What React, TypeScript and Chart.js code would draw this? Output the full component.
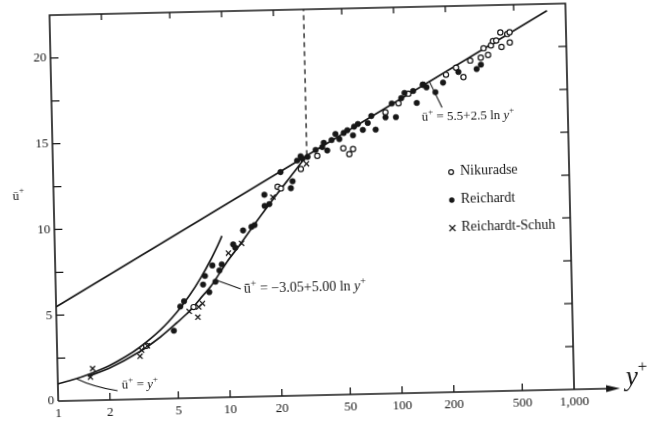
import React, { useEffect, useRef } from "react";
import { Chart, registerables } from "chart.js";

Chart.register(...registerables);

// ---------- data (y+ on log axis, u+ on linear axis) ----------
const xTickValues = [1, 2, 5, 10, 20, 50, 100, 200, 500, 1000];
const xTickLabels = ["1", "2", "5", "10", "20", "50", "100", "200", "500", "1,000"];
const yTickValues = [0, 2.5, 5, 7.5, 10, 12.5, 15, 17.5, 20, 22.5];
const yLabelValues = [0, 5, 10, 15, 20];
const yLabelTexts = ["0", "5", "10", "15", "20"];

// u+ = 5.5 + 2.5 ln y+  (straight in log-x: end points)
const logLawYPlus = [1, 780];
const logLawU = [5.5, 22.1];

// u+ = y+  (laminar sublayer curve)
const laminarYPlus = [1, 1.25, 1.5, 2, 2.5, 3, 4, 5, 6, 7, 8, 9, 9.4];
const laminarU = [1, 1.25, 1.5, 2, 2.5, 3, 4, 5, 6, 7, 8, 9, 9.4];

// buffer curve ending on u+ = -3.05 + 5.00 ln y+
const bufferYPlus = [1.5, 2, 3, 4, 5, 6, 7, 8, 10, 12, 15, 20, 25, 30];
const bufferU = [1.4, 1.85, 2.75, 3.6, 4.4, 5.1, 5.85, 6.5, 7.9, 8.9, 10.2, 11.8, 13.0, 14.0];

// dashed vertical limit
const dashYPlus = [30, 30];
const dashU = [14.0, 22.5];

const nikuradseYPlus = [3.3, 6.3, 20.1, 21, 27.6, 34.5, 49, 53, 55.8, 87, 104, 119, 145, 198, 227, 250, 275, 317, 330, 350, 365, 375, 392, 415, 420, 455, 470, 470];
const nikuradseU = [3.1, 5.3, 12.2, 12.1, 13.2, 13.95, 14.35, 14.0, 14.3, 16.4, 16.9, 17.45, 17.95, 18.5, 18.9, 18.35, 19.3, 19.45, 20.0, 19.6, 20.15, 20.4, 20.43, 20.9, 20.05, 20.8, 20.9, 20.3];

const reichardtYPlus = [4.8, 5.27, 5.55, 7.2, 7.4, 8.2, 9.3, 8.5, 7.8, 9.0, 10.9, 11.2, 12.5, 14, 14.6, 16.8, 17.9, 16.8, 21, 24.6, 24, 26.3, 27.6, 28.3, 30.3, 33.8, 37, 37.8, 39.5, 42, 44.3, 46.6, 49.5, 52, 56, 57, 60, 64, 68.5, 72, 76, 87, 95, 100, 108, 113, 127, 132.8, 145, 152, 171, 190, 234, 299, 317];
const reichardtU = [3.95, 5.35, 5.65, 6.6, 7.1, 7.7, 7.75, 6.75, 6.15, 7.4, 8.9, 8.7, 9.7, 9.9, 10.0, 11.1, 11.2, 11.75, 13.05, 12.5, 12.1, 13.7, 13.95, 13.8, 13.9, 14.3, 14.45, 14.7, 14.25, 14.85, 15.2, 14.9, 15.25, 15.4, 15.1, 15.6, 15.75, 15.4, 15.8, 16.2, 15.4, 16.1, 16.9, 16.1, 17.2, 17.5, 17.6, 16.9, 17.95, 17.8, 17.5, 18.05, 18.65, 18.8, 19.05];

const schuhYPlus = [1.55, 1.6, 3.03, 3.1, 3.35, 5.93, 6.65, 7.1, 6.75, 10.2, 12.2, 18.8, 29.8];
const schuhU = [1.35, 1.85, 2.5, 2.85, 3.1, 5.05, 4.7, 5.5, 5.3, 8.4, 8.95, 11.6, 13.5];

// ---------- annotations (in data units) ----------
const eqLogLawAt = [141, 16.05];
const eqLogLawPointer = [[158, 18.15], [186, 16.6]];
const eqBufferAt = [12.4, 6.25];
const eqBufferPointer = [[8.55, 6.85], [11.9, 6.3]];
const eqLaminarAt = [2.35, 0.85];
const eqLaminarPointer = [[1.29, 1.27], [1.6, 0.79], [2.22, 0.52]];

const FONT = "'Liberation Serif', 'Times New Roman', 'DejaVu Serif', serif";
const INK = "#171717";

function toPts(xs: number[], ys: number[]) {
  return xs.map((x, i) => ({ x, y: ys[i] }));
}

type Part = { t: string; it?: boolean; sup?: boolean };

function drawRich(ctx: CanvasRenderingContext2D, x: number, y: number, parts: Part[], size: number) {
  let cx = x;
  ctx.textBaseline = "middle";
  ctx.textAlign = "left";
  for (const p of parts) {
    const fs = p.sup ? Math.round(size * 0.72) : size;
    ctx.font = `${p.it ? "italic " : ""}${fs}px ${FONT}`;
    ctx.fillText(p.t, cx, p.sup ? y - size * 0.4 : y);
    cx += ctx.measureText(p.t).width;
  }
}

const paperPlugin = {
  id: "paper",
  afterDraw(chart: any) {
    const { ctx, chartArea: a, scales } = chart;
    const sx = scales.x;
    const sy = scales.y;
    const X = (v: number) => sx.getPixelForValue(v);
    const Y = (v: number) => sy.getPixelForValue(v);
    ctx.save();
    ctx.strokeStyle = INK;
    ctx.fillStyle = INK;
    ctx.lineCap = "butt";

    // frame
    ctx.lineWidth = 1.6;
    ctx.beginPath();
    ctx.moveTo(a.left, a.bottom);
    ctx.lineTo(a.left, a.top);
    ctx.lineTo(a.right, a.top);
    ctx.lineTo(a.right, a.bottom);
    ctx.stroke();

    // x axis with arrow
    const arrowEnd = a.right + 46;
    ctx.beginPath();
    ctx.moveTo(a.left, a.bottom);
    ctx.lineTo(arrowEnd - 6, a.bottom);
    ctx.stroke();
    ctx.beginPath();
    ctx.moveTo(arrowEnd, a.bottom);
    ctx.lineTo(arrowEnd - 14, a.bottom - 3.5);
    ctx.lineTo(arrowEnd - 14, a.bottom + 3.5);
    ctx.closePath();
    ctx.fill();

    // ticks
    ctx.lineWidth = 1.3;
    xTickValues.forEach((v) => {
      if (v === 1 || v === 1000) return;
      const px = X(v);
      ctx.beginPath();
      ctx.moveTo(px, a.bottom);
      ctx.lineTo(px, a.bottom - 7);
      ctx.moveTo(px, a.top);
      ctx.lineTo(px, a.top + 6);
      ctx.stroke();
    });
    yTickValues.forEach((v) => {
      if (v === 0 || v === 22.5) return;
      const py = Y(v);
      ctx.beginPath();
      ctx.moveTo(a.left, py);
      ctx.lineTo(a.left + 8, py);
      ctx.moveTo(a.right, py);
      ctx.lineTo(a.right - 8, py);
      ctx.stroke();
    });

    // tick labels
    ctx.font = `13px ${FONT}`;
    ctx.textBaseline = "middle";
    ctx.textAlign = "center";
    xTickValues.forEach((v, i) => {
      ctx.fillText(xTickLabels[i], X(v), a.bottom + 13);
    });
    ctx.textAlign = "right";
    yLabelValues.forEach((v, i) => {
      ctx.fillText(yLabelTexts[i], a.left - 4, Y(v));
    });

    // axis titles
    drawRich(ctx, 13, Y(12), [{ t: "\u016B" }, { t: "+", sup: true }], 13);
    ctx.font = `italic 27px ${FONT}`;
    ctx.textAlign = "left";
    ctx.textBaseline = "alphabetic";
    ctx.fillText("y", arrowEnd + 6, a.bottom - 3);
    ctx.font = `17px ${FONT}`;
    ctx.fillText("+", arrowEnd + 18, a.bottom - 16);

    // equation labels & pointers
    ctx.lineWidth = 1.1;
    const line = (pts: number[][]) => {
      ctx.beginPath();
      ctx.moveTo(X(pts[0][0]), Y(pts[0][1]));
      if (pts.length === 3) {
        ctx.quadraticCurveTo(X(pts[1][0]), Y(pts[1][1]), X(pts[2][0]), Y(pts[2][1]));
      } else {
        for (let i = 1; i < pts.length; i++) ctx.lineTo(X(pts[i][0]), Y(pts[i][1]));
      }
      ctx.stroke();
    };
    line(eqLogLawPointer);
    line(eqBufferPointer);
    line(eqLaminarPointer);

    drawRich(ctx, X(eqLogLawAt[0]), Y(eqLogLawAt[1]), [
      { t: "\u016B" }, { t: "+", sup: true }, { t: " = 5.5+2.5 ln " }, { t: "y", it: true }, { t: "+", sup: true },
    ], 13);
    drawRich(ctx, X(eqBufferAt[0]), Y(eqBufferAt[1]), [
      { t: "\u016B" }, { t: "+", sup: true }, { t: " = \u22123.05+5.00 ln " }, { t: "y", it: true }, { t: "+", sup: true },
    ], 14);
    drawRich(ctx, X(eqLaminarAt[0]), Y(eqLaminarAt[1]), [
      { t: "\u016B" }, { t: "+", sup: true }, { t: " = " }, { t: "y", it: true }, { t: "+", sup: true },
    ], 13);

    // legend
    const legX = 452;
    const legY = [174, 202, 230];
    const legTexts = chart.data.datasets.filter((d: any) => d.inLegend).map((d: any) => d.label);
    legTexts.forEach((txt: string, i: number) => {
      const cy = legY[i];
      ctx.lineWidth = 1.2;
      if (i === 0) {
        ctx.beginPath();
        ctx.arc(legX, cy + 1, 2.4, 0, Math.PI * 2);
        ctx.stroke();
      } else if (i === 1) {
        ctx.beginPath();
        ctx.arc(legX, cy + 1, 2.7, 0, Math.PI * 2);
        ctx.fill();
      } else {
        ctx.beginPath();
        ctx.moveTo(legX - 3, cy - 2);
        ctx.lineTo(legX + 3, cy + 4);
        ctx.moveTo(legX + 3, cy - 2);
        ctx.lineTo(legX - 3, cy + 4);
        ctx.stroke();
      }
      ctx.font = `14px ${FONT}`;
      ctx.textAlign = "left";
      ctx.textBaseline = "middle";
      ctx.fillText(txt, legX + 9, cy);
    });

    ctx.restore();
  },
};

export default function App() {
  const ref = useRef<HTMLCanvasElement | null>(null);

  useEffect(() => {
    if (!ref.current) return;
    const lineDs = (label: string, xs: number[], ys: number[], extra: any = {}) => ({
      label,
      data: toPts(xs, ys),
      showLine: true,
      pointRadius: 0,
      borderColor: INK,
      borderWidth: 1.7,
      fill: false,
      tension: 0.3,
      order: 2,
      ...extra,
    });
    const chart = new Chart(ref.current, {
      type: "scatter",
      data: {
        datasets: [
          lineDs("u+ = 5.5 + 2.5 ln y+", logLawYPlus, logLawU, { tension: 0 }),
          lineDs("u+ = y+", laminarYPlus, laminarU),
          lineDs("u+ = -3.05 + 5.00 ln y+", bufferYPlus, bufferU),
          lineDs("limit", dashYPlus, dashU, { tension: 0, borderDash: [5, 4], borderWidth: 1.3 }),
          {
            label: "Nikuradse",
            inLegend: true,
            data: toPts(nikuradseYPlus, nikuradseU),
            pointStyle: "circle",
            pointRadius: 2.6,
            pointBackgroundColor: "#ffffff",
            pointBorderColor: INK,
            pointBorderWidth: 1.2,
            order: 1,
          },
          {
            label: "Reichardt",
            inLegend: true,
            data: toPts(reichardtYPlus, reichardtU),
            pointStyle: "circle",
            pointRadius: 2.8,
            pointBackgroundColor: INK,
            pointBorderColor: INK,
            pointBorderWidth: 0.5,
            order: 0,
          },
          {
            label: "Reichardt-Schuh",
            inLegend: true,
            data: toPts(schuhYPlus, schuhU),
            pointStyle: "crossRot",
            pointRadius: 3.6,
            pointBorderColor: INK,
            pointBorderWidth: 1.3,
            order: 0,
          },
        ] as any,
      },
      options: {
        animation: false,
        responsive: false,
        devicePixelRatio: 1,
        layout: { padding: { left: 54, right: 79, top: 9, bottom: 26 } },
        plugins: { legend: { display: false }, tooltip: { enabled: false } },
        scales: {
          x: { type: "logarithmic", min: 1, max: 1000, display: false },
          y: { type: "linear", min: 0, max: 22.5, display: false },
        },
      } as any,
      plugins: [paperPlugin],
    });
    return () => chart.destroy();
  }, []);

  return (
    <div
      style={{
        position: "fixed",
        left: 0,
        top: 0,
        width: 649,
        height: 421,
        background: "#ffffff",
        transform: "rotate(-1.3deg)",
        transformOrigin: "50% 50%",
      }}
    >
      <canvas ref={ref} width={649} height={421} style={{ display: "block" }} />
    </div>
  );
}
